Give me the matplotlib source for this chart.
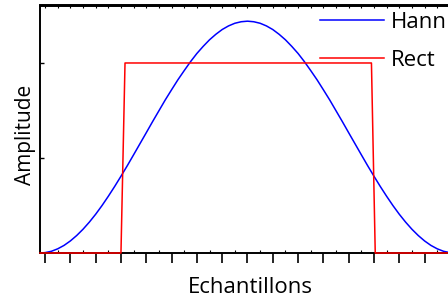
import matplotlib.pyplot as plt
import numpy as np

# Hann window (x in tick units, amplitude in y-tick units)
hann_half_x = [-0.2, 0.0, 0.25, 0.5, 0.75, 1.0, 1.25, 1.5, 1.75, 2.0, 2.25, 2.5, 2.75,
               3.0, 3.25, 3.5, 3.75, 4.0, 4.25, 4.5, 4.75, 5.0, 5.25, 5.5, 5.75,
               6.0, 6.25, 6.5, 6.75, 7.0, 7.25, 7.5, 7.75]
hann_half_y = [0.0, 0.004, 0.018, 0.044, 0.080, 0.127, 0.184, 0.250, 0.325, 0.408,
               0.499, 0.597, 0.700, 0.808, 0.919, 1.034, 1.150, 1.266, 1.383, 1.497,
               1.611, 1.718, 1.823, 1.920, 2.014, 2.100, 2.175, 2.244, 2.302, 2.352,
               2.390, 2.418, 2.434]
hann_peak = 2.44
# the window is symmetric about x = 8
hann_x = hann_half_x + [8.0] + [16 - v for v in hann_half_x[::-1]]
hann_y = hann_half_y + [hann_peak] + hann_half_y[::-1]

# Rectangular window
rect_x = [-0.2, 3.0, 3.16, 12.9, 13.05, 16.4]
rect_y = [0.0, 0.0, 2.0, 2.0, 0.0, 0.0]

W, H = 448, 297
fig = plt.figure(figsize=(W / 100, H / 100), dpi=100)
plt.rcParams['font.family'] = ['Open Sans', 'DejaVu Sans']

# axes runs past the right edge of the picture, as in the reference
left, right, top, bottom = 40, 460, 5.5, 253
ax = fig.add_axes([left / W, 1 - bottom / H, (right - left) / W, (bottom - top) / H])

ax.plot(hann_x, hann_y, color='#0000ff', lw=1.1, label='Hann', clip_on=False)
ax.plot(rect_x, rect_y, color='#ff0000', lw=1.1, label='Rect', clip_on=False, zorder=3)

ax.set_xlim(-0.2, 16.4)
ax.set_ylim(0, 2.605)

for s in ax.spines.values():
    s.set_linewidth(1.4)

ax.set_xticks(np.arange(0, 17, 1))
ax.set_xticks(np.arange(0, 16.5, 0.5), minor=True)
ax.set_yticks([1, 2])
ax.tick_params(axis='x', which='major', direction='out', length=7, width=1.2, labelbottom=False)
ax.tick_params(axis='x', which='minor', direction='in', length=2, width=0.8)
ax.tick_params(axis='y', which='major', direction='in', length=3, width=1.0, labelleft=False)

sec = ax.secondary_xaxis('top')
sec.set_xticks(np.arange(0, 16.5, 0.5))
sec.tick_params(direction='in', length=2, width=0.8, labeltop=False)
sec.spines['top'].set_linewidth(1.4)

ax.set_xlabel('Echantillons', fontsize=16, labelpad=10)
ax.set_ylabel('Amplitude', fontsize=15)
ax.yaxis.set_label_coords(-0.01, 0.477)

ax.legend(loc='upper left', bbox_to_anchor=(320 / W, 1 - 12 / H), bbox_transform=fig.transFigure,
          frameon=False, fontsize=16, handlelength=2.9, handletextpad=0.3,
          labelspacing=0.75, borderpad=0, borderaxespad=0)

plt.savefig('out.png', dpi=100)
